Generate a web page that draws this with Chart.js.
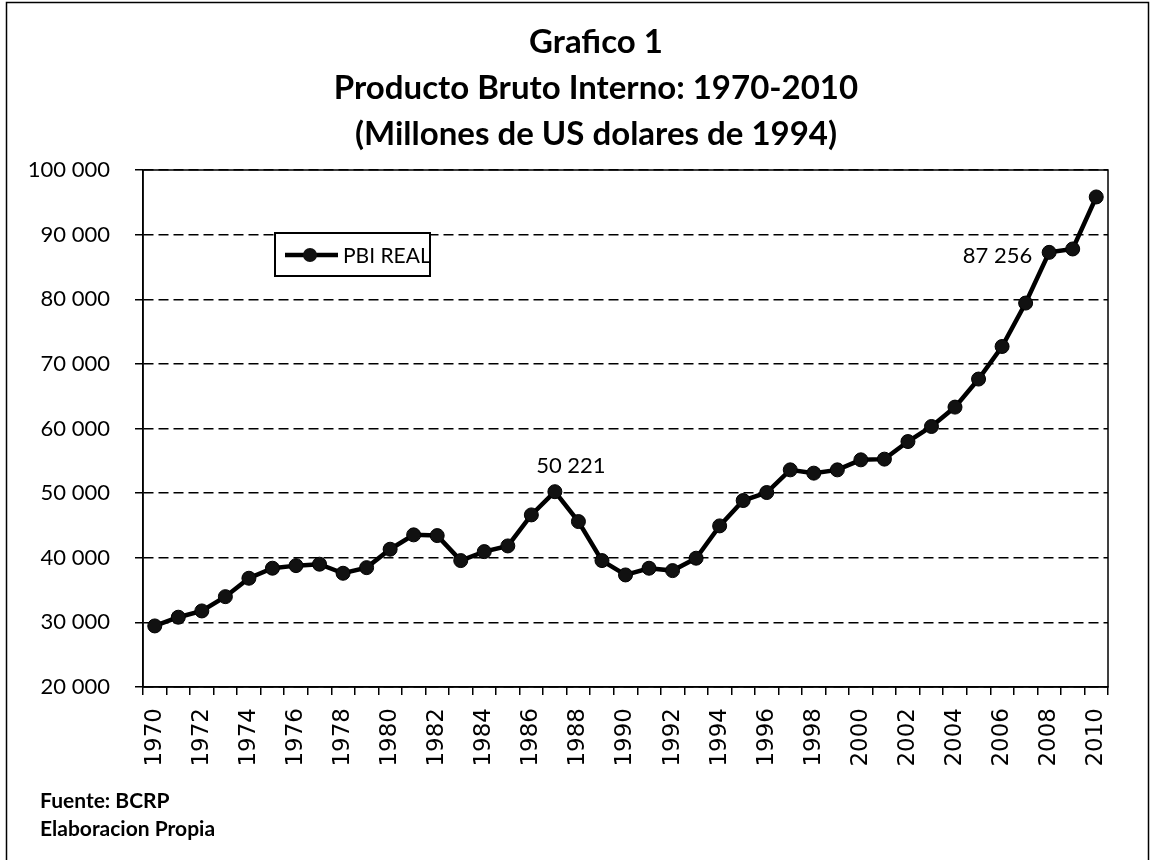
<!DOCTYPE html>
<html>
<head>
<meta charset="utf-8">
<title>Producto Bruto Interno 1970-2010</title>
<script src="https://cdn.jsdelivr.net/npm/chart.js@4.4.1/dist/chart.umd.min.js"></script>
<style>
    html, body { margin: 0; padding: 0; background: #fff; }
    #wrap { width: 1150px; height: 860px; }
</style>
</head>
<body>
<div id="wrap"><canvas id="pbiChart" width="1150" height="860"></canvas></div>
<script>
const years = [
    "1970", "1971", "1972", "1973", "1974", "1975", "1976", "1977", "1978", "1979",
    "1980", "1981", "1982", "1983", "1984", "1985", "1986", "1987", "1988", "1989",
    "1990", "1991", "1992", "1993", "1994", "1995", "1996", "1997", "1998", "1999",
    "2000", "2001", "2002", "2003", "2004", "2005", "2006", "2007", "2008", "2009",
    "2010"
];

// PBI real, millones de US$ de 1994
const pbiReal = [
    29450, 30800, 31770, 33980, 36830, 38380, 38780, 39000, 37600, 38470,
    41320, 43540, 43430, 39560, 40950, 41830, 46630, 50221, 45600, 39560,
    37340, 38380, 38010, 39930, 44930, 48850, 50090, 53600, 53090, 53600,
    55150, 55260, 57980, 60310, 63310, 67650, 72690, 79410, 87256, 87780,
    95830
];

const yTicks = [20000, 30000, 40000, 50000, 60000, 70000, 80000, 90000, 100000];

const titleLines = [
    "Grafico 1",
    "Producto Bruto Interno: 1970-2010",
    "(Millones de US dolares de 1994)"
];
const sourceLines = ["Fuente: BCRP", "Elaboracion Propia"];

// years whose value is written next to the point
const valueLabels = [
    { year: "1987", side: "top" },
    { year: "2008", side: "left" }
];

const fmt = v => String(v).replace(/\B(?=(\d{3})+(?!\d))/g, " ");

const sheetPlugin = {
    id: "sheet",
    beforeDraw(chart) {
        const ctx = chart.ctx;
        ctx.save();
        ctx.fillStyle = "#fff";
        ctx.fillRect(0, 0, chart.width, chart.height);
        ctx.restore();
    },
    beforeDatasetsDraw(chart) {
        const { ctx, chartArea: a } = chart;
        ctx.save();
        ctx.strokeStyle = "#000";
        ctx.lineWidth = 1.5;
        ctx.strokeRect(a.left, a.top, a.right - a.left, a.bottom - a.top);
        ctx.restore();
    },
    afterDraw(chart) {
        const ctx = chart.ctx;
        ctx.save();
        ctx.strokeStyle = "#000";
        ctx.lineWidth = 1.5;
        ctx.strokeRect(6.5, 2.5, chart.width - 8, chart.height + 10);

        ctx.fillStyle = "#000";
        ctx.textAlign = "center";
        ctx.font = "bold 33px Lato";
        titleLines.forEach((t, i) => ctx.fillText(t, 596, 53 + i * 46));

        ctx.textAlign = "left";
        ctx.font = "bold 21px Lato";
        sourceLines.forEach((t, i) => ctx.fillText(t, 40, 808 + i * 28));
        ctx.restore();
    }
};

const valueLabelPlugin = {
    id: "valueLabels",
    afterDatasetsDraw(chart) {
        const ctx = chart.ctx;
        const meta = chart.getDatasetMeta(0);
        const values = chart.data.datasets[0].data;
        ctx.save();
        ctx.fillStyle = "#000";
        ctx.font = "22px Lato";
        valueLabels.forEach(l => {
            const i = years.indexOf(l.year);
            const pt = meta.data[i];
            const txt = fmt(values[i]);
            if (l.side === "top") {
                ctx.textAlign = "center";
                ctx.textBaseline = "alphabetic";
                ctx.fillText(txt, pt.x + 16, pt.y - 19);
            } else {
                ctx.textAlign = "right";
                ctx.textBaseline = "middle";
                ctx.fillText(txt, pt.x - 17, pt.y + 4);
            }
        });
        ctx.restore();
    }
};

const boxLegendPlugin = {
    id: "boxLegend",
    afterDraw(chart) {
        const { ctx, chartArea: a } = chart;
        const ds = chart.data.datasets[0];
        const x = a.left + 132, y = a.top + 63;
        ctx.save();
        ctx.fillStyle = "#fff";
        ctx.fillRect(x, y, 155, 43);
        ctx.strokeStyle = "#000";
        ctx.lineWidth = 2;
        ctx.strokeRect(x, y, 155, 43);

        const cy = y + 22;
        ctx.lineWidth = ds.borderWidth;
        ctx.beginPath();
        ctx.moveTo(x + 10, cy);
        ctx.lineTo(x + 63, cy);
        ctx.stroke();
        ctx.beginPath();
        ctx.arc(x + 35, cy, ds.pointRadius, 0, Math.PI * 2);
        ctx.fillStyle = ds.pointBackgroundColor;
        ctx.fill();

        ctx.fillStyle = "#000";
        ctx.font = "21px Lato";
        ctx.textBaseline = "middle";
        ctx.fillText(ds.label, x + 68, cy + 1);
        ctx.restore();
    }
};

new Chart(document.getElementById("pbiChart"), {
    type: "line",
    data: {
        labels: years,
        datasets: [{
            label: "PBI REAL",
            data: pbiReal,
            borderColor: "#000",
            backgroundColor: "#000",
            borderWidth: 4.5,
            pointRadius: 7,
            pointBackgroundColor: "#111",
            pointBorderColor: "#000",
            pointBorderWidth: 1,
            tension: 0,
            fill: false
        }]
    },
    options: {
        responsive: false,
        animation: false,
        layout: {
            padding: { top: 170, right: 42, bottom: 73, left: 0 }
        },
        plugins: {
            legend: { display: false },
            title: { display: false },
            tooltip: { enabled: false }
        },
        scales: {
            x: {
                offset: true,
                afterFit: axis => { axis.height = 100; },
                grid: {
                    offset: true,
                    drawOnChartArea: false,
                    drawTicks: true,
                    tickLength: 8,
                    color: "#000",
                    lineWidth: 1.5
                },
                border: { display: true, color: "#000", width: 1.5 },
                ticks: {
                    autoSkip: false,
                    maxRotation: 90,
                    minRotation: 90,
                    padding: 13,
                    color: "#000",
                    font: { family: "DejaVu Sans", size: 23 },
                    callback: (val, i) => (i % 2 === 0 ? years[i] : "")
                }
            },
            y: {
                min: 20000,
                max: 100000,
                afterFit: axis => { axis.width = 143; },
                afterBuildTicks: axis => {
                    axis.ticks = yTicks.map(v => ({ value: v }));
                },
                grid: {
                    color: "#000",
                    lineWidth: 1.5,
                    tickLength: 8,
                    tickBorderDash: []
                },
                border: { display: true, color: "#000", width: 1.5, dash: [10, 5] },
                ticks: {
                    padding: 25,
                    color: "#000",
                    font: { family: "Lato", size: 22 },
                    callback: v => fmt(v)
                }
            }
        }
    },
    plugins: [sheetPlugin, valueLabelPlugin, boxLegendPlugin]
});
</script>
</body>
</html>
